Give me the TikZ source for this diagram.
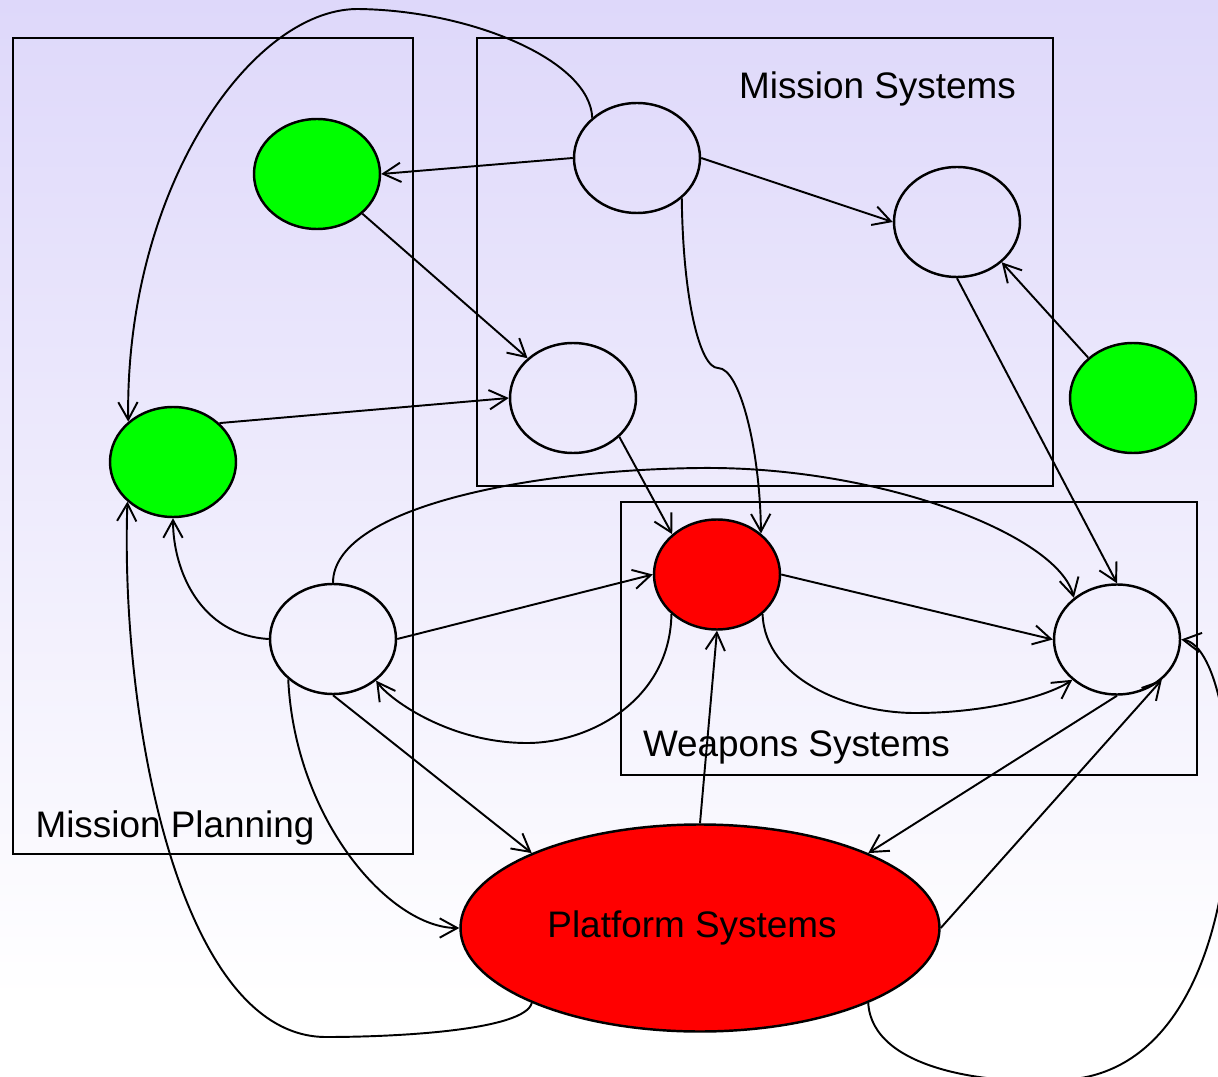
\documentclass[tikz,border=0pt]{standalone}
\usepackage{fontspec}
\setmainfont{Liberation Sans}
\usetikzlibrary{shapes.geometric,arrows.meta}
\tikzstyle{every node}=[font=\fontsize{21}{25}\selectfont]
\tikzstyle{part}=[draw, ellipse, line width=1.4pt, inner sep=0pt,
    minimum width=2.52cm, minimum height=2.2cm]
\tikzstyle{link}=[-{Straight Barb[length=10pt,width=11pt]}]
\definecolor{skytop}{RGB}{222,216,250}
\definecolor{ready}{RGB}{0,255,0}
\definecolor{missing}{RGB}{255,0,0}

\begin{document}
\begin{tikzpicture}[line width=1.1pt]
            \useasboundingbox (0, 0) rectangle (24.36, 21.52);
            \clip (0, 0) rectangle (24.36, 21.52);
            \fill[white] (0, 0) rectangle (24.36, 21.52);
            \shade[top color=skytop, bottom color=white] (0, 21.52) rectangle (24.36, 1.52);

            % the three groups
            \draw (0.26, 20.76) rectangle (8.26, 4.44);
            \draw (9.54, 20.76) rectangle (21.06, 11.80);
            \draw (12.42, 11.48) rectangle (23.94, 6.02);
            \node[anchor=base] (planning) at (3.50, 4.78) {Mission Planning};
            \node[anchor=base] (mission) at (17.55, 19.54) {Mission Systems};
            \node[anchor=base] (weapons) at (15.93, 6.40) {Weapons Systems};

            % the parts
            \node[part, fill=ready] (mpa) at (6.34, 18.04) {};
            \node[part, fill=ready] (mpb) at (3.46, 12.28) {};
            \node[part] (mpc) at (6.66, 8.74) {};
            \node[part] (msa) at (12.74, 18.36) {};
            \node[part] (msb) at (19.14, 17.08) {};
            \node[part] (msc) at (11.46, 13.56) {};
            \node[part, fill=ready] (ext) at (22.66, 13.56) {};
            \node[part, fill=missing] (wsa) at (14.34, 10.03) {};
            \node[part] (wsb) at (22.34, 8.73) {};
            \node[part, fill=missing, minimum width=9.58cm, minimum height=4.14cm]
                (platform) at (14.00, 2.96) {Platform Systems\hspace*{0.32cm}};

            % straight links
            \draw[link] (msa.west) -- (mpa.east);
            \draw[link] (msa.east) -- (msb.west);
            \draw[link] (mpa) -- (msc);
            \draw[link] (mpb.40) -- (msc.west);
            \draw[link] (msc.-40) -- (wsa.138);
            \draw[link] (msb.south) -- (wsb.north);
            \draw[link] (ext.138) -- (msb.-42);
            \draw[link] (mpc.east) -- (wsa.west);
            \draw[link] (wsa.east) -- (wsb.west);
            \draw[link] (mpc.south) -- (platform.156);
            \draw[link] (platform.north) -- (wsa.south);
            \draw[link] (wsb.south) -- (platform.24);
            \draw[link] (platform.east) -- (wsb.-42);

            % curved links
            \draw[link] (msa.138) .. controls (11.80, 20.32) and (9.40, 21.32) .. (7.14, 21.34)
                .. controls (5.00, 21.32) and (2.50, 17.72) .. (mpb.138);
            \draw[link] (msa.-42) .. controls (13.66, 15.52) and (14.00, 14.16) .. (14.36, 14.16)
                .. controls (14.80, 14.16) and (15.20, 12.52) .. (wsa.43);
            \draw[link] (mpc.north) .. controls (6.66, 11.32) and (10.40, 12.12) .. (14.00, 12.16)
                .. controls (17.60, 12.20) and (21.16, 10.82) .. (wsb.136);
            \draw[link] (mpc.west) .. controls (4.00, 8.82) and (3.46, 10.12) .. (mpb.south);
            \draw[link] (wsa.221) .. controls (13.40, 7.52) and (11.80, 6.66) .. (10.54, 6.66)
                .. controls (9.00, 6.66) and (7.80, 7.52) .. (mpc.-44);
            \draw[link] (wsa.-41) .. controls (15.30, 7.92) and (17.00, 7.26) .. (18.30, 7.26)
                .. controls (19.80, 7.26) and (21.00, 7.62) .. (wsb.222);
            \draw[link] (mpc.222) .. controls (5.90, 5.12) and (7.80, 2.96) .. (platform.west);
            \draw[link] (platform.204) .. controls (10.50, 0.92) and (8.00, 0.78) .. (6.52, 0.78)
                .. controls (3.60, 0.78) and (2.40, 7.12) .. (mpb.221);
            \draw[link] (platform.-24) .. controls (17.44, 0.12) and (19.80, -0.18) .. (21.20, -0.08)
                .. controls (25.40, 0.02) and (25.00, 8.52) .. (wsb.east);
\end{tikzpicture}
\end{document}
